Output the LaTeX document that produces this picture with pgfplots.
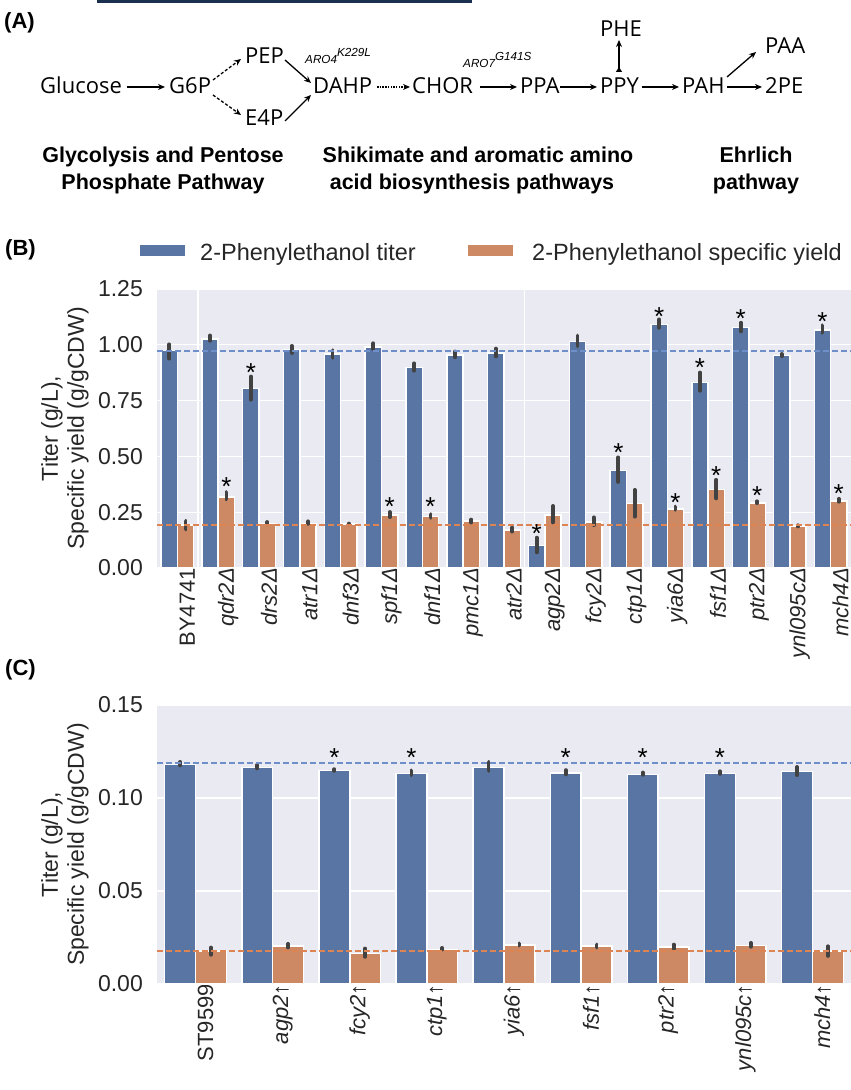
\documentclass[border=0pt]{standalone}
\usepackage{pgfplots}
\usepackage{pgfplotstable}
\pgfplotsset{compat=1.18}
\usepackage{fontspec}
\setmainfont{Liberation Sans}
\newfontfamily\osans{Open Sans}
\usetikzlibrary{arrows.meta}
\definecolor{bgc}{HTML}{EAEAF2}
\definecolor{bblue}{HTML}{5975A4}
\definecolor{borange}{HTML}{CC8963}
\definecolor{errc}{HTML}{424242}
\definecolor{lblue}{HTML}{6F8FCB}
\definecolor{lorange}{HTML}{DD8452}
\definecolor{navy}{HTML}{1B2F4E}
\definecolor{txt}{HTML}{262626}

\pgfplotstableread{
x y ep em
-0.2 0.975 0.027 0.037
0.8 1.025 0.017 0.007
1.8 0.805 0.053 0.051
2.8 0.978 0.017 0.015
3.8 0.958 0.017 0.016
4.8 0.990 0.017 0.009
5.8 0.899 0.018 0.015
6.8 0.954 0.016 0.010
7.8 0.964 0.019 0.016
8.8 0.101 0.035 0.031
9.8 1.015 0.027 0.022
10.8 0.4375 0.058 0.052
11.8 1.092 0.022 0.016
12.8 0.832 0.044 0.038
13.8 1.077 0.022 0.017
14.8 0.952 0.007 0.003
15.8 1.067 0.020 0.013
}\Bblue

\pgfplotstableread{
x y ep em
0.2 0.192 0.019 0.019
1.2 0.318 0.022 0.010
2.2 0.200 0.006 0.004
3.2 0.200 0.009 0.002
4.2 0.196 0.003 0.000
5.2 0.237 0.014 0.009
6.2 0.231 0.010 0.006
7.2 0.210 0.007 0.006
8.2 0.171 0.010 0.008
9.2 0.237 0.041 0.033
10.2 0.207 0.020 0.015
11.2 0.289 0.061 0.059
12.2 0.265 0.010 0.004
13.2 0.351 0.044 0.039
14.2 0.292 0.007 0.001
15.2 0.1875 0.004 0.001
16.2 0.300 0.010 0.003
}\Borange

\pgfplotstableread{
x y
1.8 0.899
8.8 0.177
10.8 0.542
11.8 1.152
12.8 0.921
13.8 1.144
15.8 1.129
1.2 0.388
5.2 0.299
6.2 0.299
12.2 0.318
13.2 0.4375
14.2 0.348
16.2 0.360
}\Bstars

\pgfplotstableread{
x y ep em
-0.2 0.1181 0.0013 0.0006
0.8 0.1165 0.0013 0.0006
1.8 0.1149 0.0006 0.0003
2.8 0.1131 0.0017 0.0008
3.8 0.1165 0.0029 0.0019
4.8 0.1134 0.0016 0.0007
5.8 0.1127 0.0010 0.0002
6.8 0.1133 0.0011 0.0003
7.8 0.1142 0.0025 0.0019
}\Cblue

\pgfplotstableread{
x y ep em
0.2 0.0177 0.0019 0.0020
1.2 0.0203 0.0013 0.0007
2.2 0.0165 0.0026 0.0019
3.2 0.0186 0.0008 0.0000
4.2 0.0210 0.0008 0.0003
5.2 0.0203 0.0009 0.0007
6.2 0.0199 0.0013 0.0010
7.2 0.0208 0.0013 0.0008
8.2 0.0177 0.0026 0.0026
}\Corange

\pgfplotstableread{
x y
1.8 0.1247
2.8 0.1247
4.8 0.1247
5.8 0.1247
6.8 0.1247
}\Cstars

\pgfplotsset{
  sns/.style={
    scale only axis, width=694pt, height=279pt,
    axis background/.style={fill=bgc},
    axis line style={draw=none},
    major tick length=0pt,
    ymajorgrids, grid style={white, line width=1.3pt},
    ymin=0,
    /pgf/number format/assume math mode=true,
    yticklabel style={font=\fontsize{23}{26}\selectfont, text=txt, anchor=east, inner sep=0pt, xshift=-14pt,
      /pgf/number format/fixed, /pgf/number format/fixed zerofill, /pgf/number format/precision=2},
    xticklabel style={rotate=90, anchor=east, font=\fontsize{22}{24}\selectfont, text=txt, inner sep=0pt, yshift=-10pt},
    every axis y label/.style={at={(axis description cs:-0.1326,0.5)}, rotate=90, anchor=center, align=center, text=txt, font=\fontsize{23}{26}\selectfont},
    ylabel={Titer (g/L),\\Specific yield (g/gCDW)},
  },
  barB/.style={ybar, bar shift=0pt, draw=white, line width=1.5pt,
    error bars/y dir=both, error bars/y explicit,
    error bars/error bar style={draw=errc, line width=3.8pt, line cap=round},
    error bars/error mark=none},
  starp/.style={only marks, mark=none, nodes near coords={*},
    every node near coord/.append style={anchor=center, font=\fontsize{26}{26}\selectfont, text=black, inner sep=0pt, yshift=-5.5pt}},
}

\begin{document}
\begin{tikzpicture}
\path[use as bounding box] (0,0) rectangle (851pt,1090pt);
\begin{scope}[x=1pt,y=-1pt,yshift=1090pt]
\fill[navy] (97,0) rectangle (472,3);
\node[font=\bfseries\fontsize{22}{26}\selectfont, anchor=base west, inner sep=0pt] at (4,29) {(A)};
\tikzset{met/.style={font=\osans\fontsize{22}{26}\selectfont, anchor=base west, inner sep=0pt},
  arr/.style={-{Stealth[length=7pt,width=6pt]}, line width=1.3pt, black},
  ttl/.style={font=\bfseries\fontsize{21.5}{26}\selectfont, anchor=base, inner sep=0pt}}
\node[met] at (40,94) {Glucose};
\node[met] at (169,94) {G6P};
\node[met] at (245,64) {PEP};
\node[met] at (245,126) {E4P};
\node[met] at (313,94) {DAHP};
\node[met] at (412,94) {CHOR};
\node[met] at (520,94) {PPA};
\node[met] at (600,94) {PPY};
\node[met] at (600,37) {PHE};
\node[met] at (682,94) {PAH};
\node[met] at (765,54) {PAA};
\node[met] at (765,94) {2PE};
\node[font=\itshape\fontsize{11.7}{14}\selectfont, anchor=base west, inner sep=0pt] at (305,64) {ARO4\raisebox{7pt}{K229L}};
\node[font=\itshape\fontsize{11.7}{14}\selectfont, anchor=base west, inner sep=0pt] at (463,68) {ARO7\raisebox{7pt}{G141S}};
\draw[arr] (127,87) -- (165,87);
\draw[arr, dash pattern=on 3pt off 2pt] (213,80) -- (241,59);
\draw[arr, dash pattern=on 3pt off 2pt] (213,95) -- (241,115);
\draw[arr] (285,60) -- (311,83);
\draw[arr] (285,121) -- (311,95);
\draw[arr, dash pattern=on 1.5pt off 1.2pt] (377,87) -- (410,87);
\draw[arr] (480,87) -- (517,87);
\draw[arr] (560,87) -- (597,87);
\draw[{Triangle[length=5pt,width=6pt,reversed]}-{Stealth[length=7pt,width=6pt]}, line width=1.3pt] (619,72) -- (619,40);
\draw[arr] (642,87) -- (679,87);
\draw[arr] (727,77) -- (756,52);
\draw[arr] (727,87) -- (762,87);
\node[ttl] at (163,163) {Glycolysis and Pentose};
\node[ttl] at (163,190) {Phosphate Pathway};
\node[ttl] at (478,163) {Shikimate and aromatic amino};
\node[ttl] at (472,190) {acid biosynthesis pathways};
\node[ttl] at (756,163) {Ehrlich};
\node[ttl] at (756,190) {pathway};
% panel labels and legend
\node[font=\bfseries\fontsize{22}{26}\selectfont, anchor=base west, inner sep=0pt] at (5,256) {(B)};
\node[font=\bfseries\fontsize{22}{26}\selectfont, anchor=base west, inner sep=0pt] at (5,676) {(C)};
\fill[bblue] (140,245) rectangle (185,256);
\node[anchor=base west, inner sep=0pt, text=txt, font=\fontsize{23.5}{28}\selectfont] at (200,261) {2-Phenylethanol titer};
\fill[borange] (468,245) rectangle (513,256);
\node[anchor=base west, inner sep=0pt, text=txt, font=\fontsize{23.5}{28}\selectfont] at (532,261) {2-Phenylethanol specific yield};
\end{scope}

% Panel B
\begin{axis}[sns, at={(157pt,522pt)}, anchor=south west,
  xmin=-0.5, xmax=16.5, ymax=1.25,
  ytick={0,0.25,0.5,0.75,1,1.25},
  xtick={0,...,16},
  xticklabels={BY4741, \textit{qdr2Δ}, \textit{drs2Δ}, \textit{atr1Δ}, \textit{dnf3Δ}, \textit{spf1Δ}, \textit{dnf1Δ}, \textit{pmc1Δ}, \textit{atr2Δ}, \textit{agp2Δ}, \textit{fcy2Δ}, \textit{ctp1Δ}, \textit{yia6Δ}, \textit{fsf1Δ}, \textit{ptr2Δ}, \textit{ynl095cΔ}, \textit{mch4Δ}},
]
\addplot[white, line width=1.5pt, forget plot] coordinates {(0.5,0) (0.5,1.25)};
\addplot[white, line width=1.5pt, forget plot] coordinates {(8.5,0) (8.5,1.25)};
\addplot[barB, fill=bblue, bar width=0.4] table[x=x, y=y, y error plus=ep, y error minus=em] {\Bblue};
\addplot[barB, fill=borange, bar width=0.4] table[x=x, y=y, y error plus=ep, y error minus=em] {\Borange};
\addplot[lblue, line width=1.5pt, dash pattern=on 6pt off 3pt] coordinates {(-0.5,0.973) (16.5,0.973)};
\addplot[lorange, line width=1.5pt, dash pattern=on 6pt off 3pt] coordinates {(-0.5,0.192) (16.5,0.192)};
\addplot[starp] table[x=x, y=y] {\Bstars};
\end{axis}

% Panel C
\begin{axis}[sns, at={(157pt,106pt)}, anchor=south west,
  xmin=-0.5, xmax=8.5, ymax=0.15,
  ytick={0,0.05,0.1,0.15},
  xtick={0,...,8},
  xticklabels={ST9599, \textit{agp2↑}, \textit{fcy2↑}, \textit{ctp1↑}, \textit{yia6↑}, \textit{fsf1↑}, \textit{ptr2↑}, \textit{ynl095c↑}, \textit{mch4↑}},
]
\addplot[barB, fill=bblue, bar width=0.4] table[x=x, y=y, y error plus=ep, y error minus=em] {\Cblue};
\addplot[barB, fill=borange, bar width=0.4] table[x=x, y=y, y error plus=ep, y error minus=em] {\Corange};
\addplot[lblue, line width=1.5pt, dash pattern=on 6pt off 3pt] coordinates {(-0.5,0.1188) (8.5,0.1188)};
\addplot[lorange, line width=1.5pt, dash pattern=on 6pt off 3pt] coordinates {(-0.5,0.0177) (8.5,0.0177)};
\addplot[starp] table[x=x, y=y] {\Cstars};
\end{axis}
\end{tikzpicture}
\end{document}
